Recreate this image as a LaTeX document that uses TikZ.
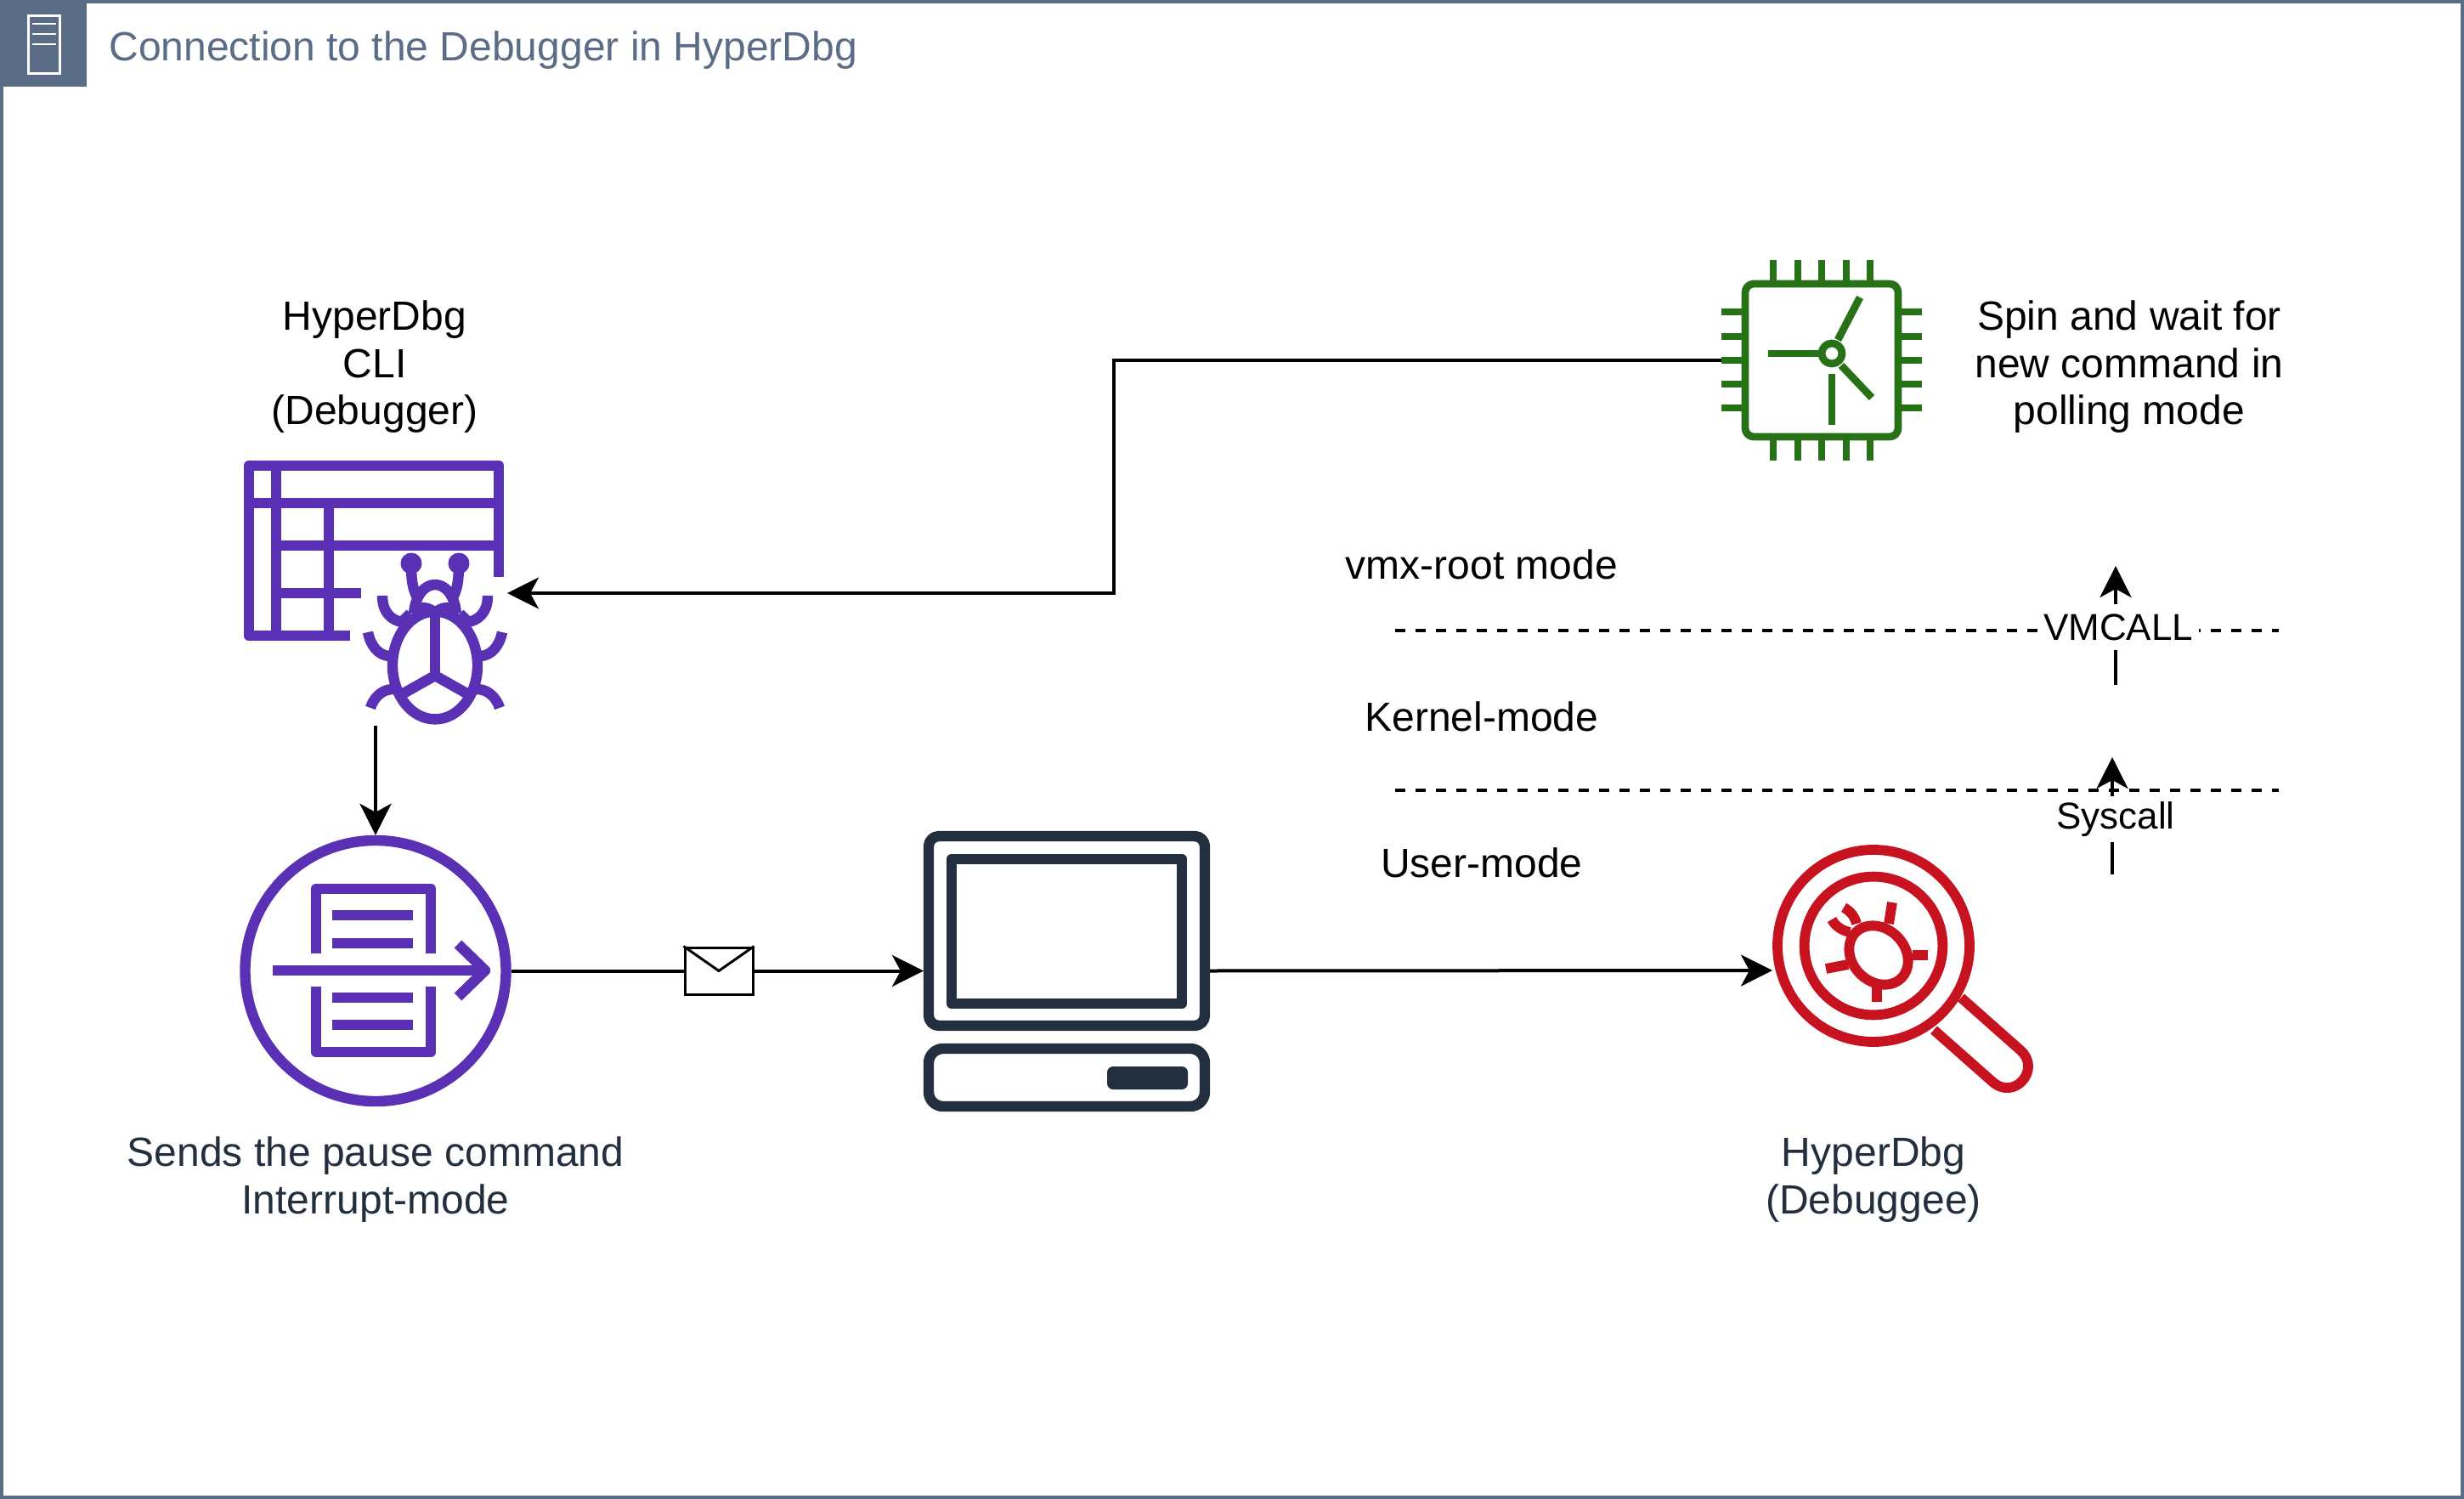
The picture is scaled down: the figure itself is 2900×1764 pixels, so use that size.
\documentclass[tikz,border=0pt]{standalone}
\usepackage{fontspec}
\setmainfont{Liberation Sans}
\usetikzlibrary{arrows.meta}

\definecolor{framecolor}{HTML}{5A6C86}
\definecolor{clicolor}{HTML}{5A30B5}
\definecolor{pccolor}{HTML}{232F3E}
\definecolor{chipcolor}{HTML}{277116}
\definecolor{bugcolor}{HTML}{C7131F}

\tikzset{
  iconbox/.style={inner sep=0pt, outer sep=0pt},
  clistroke/.style={draw=clicolor, line width=6.2pt, line join=round},
  pcstroke/.style={draw=pccolor, line width=6.2pt, line join=round},
  chipstroke/.style={draw=chipcolor, line width=4.4pt, line join=round},
  bugstroke/.style={draw=bugcolor, line width=5.9pt, line join=round},
  connector/.style={draw=black, line width=2pt},
  link/.style={connector, -{Stealth[length=18.5pt, width=18.5pt, inset=5pt]}},
  levelline/.style={draw=black, line width=1.8pt, dash pattern=on 6pt off 6pt},
  bodytext/.style={inner sep=0pt, align=center, font=\fontsize{24}{27.75}\selectfont},
  edgetext/.style={fill=white, inner xsep=3.7pt, inner ysep=0pt, minimum height=27pt,
    font=\fontsize{22}{26}\selectfont}
}

\begin{document}
\begin{tikzpicture}[x=0.5pt, y=-0.5pt]
  \useasboundingbox (0,0) rectangle (2900,1764);
  \draw [framecolor, line width=2pt] (2,2) rectangle (2898,1762);
  \fill [framecolor] (0,0) rectangle (102,102);
  \draw [white, line width=1.5pt] (33,19) rectangle (70,87);
  \foreach \liney in {28,40,52} {
    \draw [white, line width=1.4pt] (38,\liney) -- (66,\liney);
  }
  \node (title) [anchor=base west, inner sep=0pt, text=framecolor,
  font=\fontsize{24}{27.75}\selectfont] at (128,72) {Connection to the Debugger in HyperDbg};

  \node (cli) [iconbox, minimum width=155pt, minimum height=156pt] at (442,698) {};
  \draw [clistroke] (412,748) -- (293,748) -- (293,548) -- (587,548) -- (587,679);
  \draw [clistroke] (325,548) -- (325,748);
  \draw [clistroke] (293,592) -- (587,592);
  \draw [clistroke] (387,592) -- (387,748);
  \draw [clistroke] (325,642) -- (587,642);
  \draw [clistroke] (325,698) -- (425,698);
  \draw [clistroke] (512,783) ellipse [x radius=25pt, y radius=31.7pt];
  \draw [clistroke] (487,718) .. controls (497,713) and (505,715) .. (512,721)
    .. controls (519,715) and (527,713) .. (537,718);
  \draw [clistroke] (487,722) .. controls (489,700) and (500,688) .. (512,688)
    .. controls (524,688) and (535,700) .. (537,722);
  \draw [clistroke] (512,721) -- (512,795);
  \draw [clistroke] (473,817) -- (512,795) -- (551,817);
  \fill [clicolor] (484,663) circle [radius=6.25pt];
  \fill [clicolor] (540,663) circle [radius=6.25pt];
  \draw [clistroke] (484,663) .. controls (484,680) and (485,692) .. (491,703);
  \draw [clistroke] (540,663) .. controls (540,680) and (539,692) .. (533,703);
  \draw [clistroke] (450,701) .. controls (450,722) and (462,730) .. (473,732) -- (483,722);
  \draw [clistroke] (574,701) .. controls (574,722) and (562,730) .. (551,732) -- (541,722);
  \draw [clistroke] (433,744) .. controls (436,760) and (446,772) .. (459,772);
  \draw [clistroke] (591,744) .. controls (588,760) and (578,772) .. (565,772);
  \draw [clistroke] (436,833) .. controls (441,818) and (452,811) .. (463,811);
  \draw [clistroke] (588,833) .. controls (583,818) and (572,811) .. (561,811);

  \node (pause) [circle, clistroke, iconbox, outer sep=3.1pt, minimum size=153.5pt] at (442,1142.5) {};
  \draw [clistroke] (372,1122) -- (372,1046) -- (507,1046) -- (507,1122);
  \draw [clistroke] (372,1161) -- (372,1238) -- (507,1238) -- (507,1161);
  \foreach \liney in {1077,1110,1174,1206} {
    \draw [clistroke] (391,\liney) -- (486,\liney);
  }
  \draw [clistroke] (321,1142) -- (570,1142);
  \draw [clistroke] (539,1111) -- (571,1142) -- (539,1173);

  \node (pc) [iconbox, minimum width=168.5pt, minimum height=165pt] at (1255.5,1142.5) {};
  \draw [pcstroke, rounded corners=6pt] (1093,984) rectangle (1418,1207);
  \draw [pcstroke] (1120,1011) rectangle (1391,1181);
  \draw [pcstroke, rounded corners=8.5pt] (1093,1234) rectangle (1418,1302);
  \fill [pccolor, rounded corners=3.5pt] (1303,1255) rectangle (1398,1282);

  \node (chip) [iconbox, minimum size=118pt] at (2144,424) {};
  \draw [chipstroke, rounded corners=5pt] (2054,334) rectangle (2234,514);
  \foreach \pinx in {2087,2116,2144,2173,2201} {
    \draw [chipstroke] (\pinx,306) -- (\pinx,334);
    \draw [chipstroke] (\pinx,514) -- (\pinx,542);
  }
  \foreach \piny in {367,396,424,452,480} {
    \draw [chipstroke] (2026,\piny) -- (2054,\piny);
    \draw [chipstroke] (2234,\piny) -- (2262,\piny);
  }
  \draw [chipstroke] (2156,416) circle [radius=6pt];
  \draw [chipstroke] (2081,416) -- (2144,416);
  \draw [chipstroke] (2189,350) -- (2163,400);
  \draw [chipstroke] (2203,468) -- (2167,430);
  \draw [chipstroke] (2156,440) -- (2156,500);

  \node (debuggee) [iconbox, minimum width=153.5pt, minimum height=148pt] at (2239.5,1142) {};
  \draw [bugstroke] (2205,1113) circle [radius=56.5pt];
  \draw [bugstroke] (2205,1113) circle [radius=40.7pt];
  \draw [bugstroke] (2308,1174) -- (2378,1236) .. controls (2403,1258) and (2371,1296) .. (2345,1273) -- (2276,1212);
  \draw [bugstroke, rotate around={-45:(2211,1124)}] (2211,1124) ellipse [x radius=19pt, y radius=15.5pt];
  \draw [bugstroke] (2227,1062) -- (2223,1087);
  \draw [bugstroke] (2269,1124) -- (2251,1124);
  \draw [bugstroke] (2209,1179) -- (2209,1162);
  \draw [bugstroke] (2149,1140) -- (2175,1135);
  \draw [bugstroke] (2156,1082) .. controls (2160,1090) and (2168,1095) .. (2177,1097);
  \draw [bugstroke] (2170,1068) .. controls (2178,1072) and (2183,1079) .. (2185,1087);

  \node (clitext) [bodytext] at (441,432) {HyperDbg\\CLI\\(Debugger)};
  \node (spintext) [bodytext] at (2506,432) {Spin and wait for\\new command in\\polling mode};
  \node (roottext) [bodytext] at (1744,664) {vmx-root mode};
  \node (kerneltext) [bodytext] at (1744,843) {Kernel-mode};
  \node (usertext) [bodytext] at (1744,1015) {User-mode};
  \node (pausetext) [bodytext, text=pccolor] at (442,1388) {Sends the pause command\\Interrupt-mode};
  \node (debuggeetext) [bodytext, text=pccolor] at (2205,1388) {HyperDbg\\(Debuggee)};

  \coordinate (rootleft) at (1642,742);
  \coordinate (rootright) at (2682,742);
  \coordinate (kernelleft) at (1642,930);
  \coordinate (kernelright) at (2682,930);
  \draw [levelline] (rootleft) -- (rootright);
  \draw [levelline] (kernelleft) -- (kernelright);

  \coordinate (vmcallfrom) at (2490,806);
  \coordinate (vmcallto) at (2490,666);
  \coordinate (syscallfrom) at (2486,1029);
  \coordinate (syscallto) at (2486,891);
  \draw [link] (vmcallfrom) -- node (vmcall) [edgetext, xshift=1.5pt, yshift=-1pt] {VMCALL} (vmcallto);
  \draw [link] (syscallfrom) -- node (syscall) [edgetext, xshift=2pt, yshift=-2pt] {Syscall} (syscallto);

  \node (message) [draw=black, fill=white, line width=1.5pt, inner sep=0pt, minimum width=40pt, minimum height=27.5pt] at (846,1142.5) {};
  \draw [black, line width=1.5pt] (message.north west) -- (message.center) -- (message.north east);

  \coordinate (bend) at (1311,424);
  \draw [link] (chip.west) -- (bend) |- (cli.east);
  \draw [link] (cli.south) -- (pause.north);
  \draw [connector] (pause.east) -- (message.west);
  \draw [link] (message.east) -- (pc.west);
  \draw [link] (pc.east) -- (debuggee.west);
\end{tikzpicture}
\end{document}
